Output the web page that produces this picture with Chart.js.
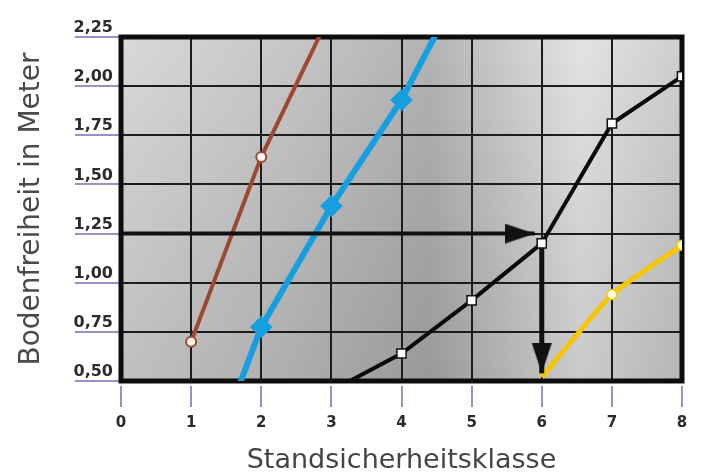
<!DOCTYPE html>
<html>
<head>
<meta charset="utf-8">
<script src="https://cdn.jsdelivr.net/npm/chart.js@4/dist/chart.umd.min.js"></script>
<style>
  html, body { margin: 0; padding: 0; background: #fff; }
  #wrap { width: 704px; height: 476px; }
</style>
</head>
<body>
<div id="wrap"><canvas id="chart" width="704" height="476"></canvas></div>
<script>
// tick labels
const xTickLabels = ["0", "1", "2", "3", "4", "5", "6", "7", "8"];
const yTickLabels = ["0,50", "0,75", "1,00", "1,25", "1,50", "1,75", "2,00", "2,25"];

// series (x = Standsicherheitsklasse, y = Bodenfreiheit)
const brownX = [1, 2, 3];
const brownY = [0.70, 1.64, 2.38];
const blueX = [1, 2, 3, 4, 5];
const blueY = [-0.17, 0.775, 1.39, 1.93, 2.61];
const blackX = [3, 4, 5, 6, 7, 8];
const blackY = [0.45, 0.64, 0.91, 1.20, 1.81, 2.05];
const yellowX = [6, 7, 8];
const yellowY = [0.52, 0.94, 1.19];

// reading arrows
const arrowHX = [0, 5.9];
const arrowHY = [1.25, 1.25];
const arrowVX = [6, 6];
const arrowVY = [1.20, 0.54];

const pts = (xs, ys) => xs.map((x, i) => ({ x, y: ys[i] }));

// arrow head, tip in the middle of the canvas so it sits on the data point
function arrowHead() {
  const c = document.createElement("canvas");
  c.width = 60;
  c.height = 20;
  const g = c.getContext("2d");
  g.fillStyle = "#111";
  g.beginPath();
  g.moveTo(0, 0);
  g.lineTo(30, 10);
  g.lineTo(0, 20);
  g.closePath();
  g.fill();
  return c;
}
const head = arrowHead();

const backdrop = {
  id: "backdrop",
  beforeDraw(chart) {
    const { ctx, chartArea: a } = chart;
    ctx.save();
    const g = ctx.createLinearGradient(a.left, a.top, a.right, a.top);
    g.addColorStop(0, "#d2d2d2");
    g.addColorStop(0.3, "#bdbdbd");
    g.addColorStop(0.55, "#a6a6a6");
    g.addColorStop(0.82, "#dedede");
    g.addColorStop(1, "#c6c6c6");
    ctx.fillStyle = g;
    ctx.fillRect(a.left, a.top, a.right - a.left, a.bottom - a.top);
    const v = ctx.createLinearGradient(0, a.top, 0, a.bottom);
    v.addColorStop(0, "rgba(255,255,255,0.15)");
    v.addColorStop(1, "rgba(60,60,60,0.12)");
    ctx.fillStyle = v;
    ctx.fillRect(a.left, a.top, a.right - a.left, a.bottom - a.top);
    ctx.restore();
  },
  beforeDatasetsDraw(chart) {
    const { ctx, chartArea: a } = chart;
    ctx.save();
    ctx.strokeStyle = "#0d0d0d";
    ctx.lineWidth = 5;
    ctx.strokeRect(a.left, a.top, a.right - a.left, a.bottom - a.top);
    ctx.restore();
  },
};

new Chart(document.getElementById("chart"), {
  type: "line",
  data: {
    datasets: [
      {
        data: pts(arrowVX, arrowVY),
        borderColor: "#111",
        borderWidth: 5,
        pointStyle: head,
        pointRotation: 90,
        pointRadius: [0, 10],
        order: 1,
      },
      {
        data: pts(arrowHX, arrowHY),
        borderColor: "#111",
        borderWidth: 4,
        pointStyle: head,
        pointRotation: 0,
        pointRadius: [0, 10],
        order: 2,
      },
      {
        data: pts(blackX, blackY),
        borderColor: "#0a0a0a",
        borderWidth: 4,
        pointStyle: "rect",
        pointRadius: [0, 6.5, 6.5, 6.5, 6.5, 6.5],
        pointBackgroundColor: "#ffffff",
        pointBorderColor: "#111",
        pointBorderWidth: 1.5,
        order: 0,
      },
      {
        data: pts(yellowX, yellowY),
        borderColor: "#f7c600",
        borderWidth: 5,
        tension: 0.15,
        pointStyle: "circle",
        pointRadius: [0, 5, 5],
        pointBackgroundColor: "#fffbe4",
        pointBorderColor: "#f7c600",
        pointBorderWidth: 1.5,
        order: 3,
      },
      {
        data: pts(blueX, blueY),
        borderColor: "#169fe0",
        borderWidth: 6,
        pointStyle: "rectRot",
        pointRadius: [0, 7, 7, 7, 0],
        pointBackgroundColor: "#169fe0",
        pointBorderColor: "#169fe0",
        order: 4,
      },
      {
        data: pts(brownX, brownY),
        borderColor: "#9c4832",
        borderWidth: 4,
        pointStyle: "circle",
        pointRadius: [5, 5, 0],
        pointBackgroundColor: "#fff4f0",
        pointBorderColor: "#9c4832",
        pointBorderWidth: 2,
        order: 5,
      },
    ],
  },
  options: {
    responsive: false,
    animation: false,
    events: [],
    layout: { padding: { top: 37, right: 22, left: 0, bottom: 0 } },
    plugins: {
      legend: { display: false },
      tooltip: { enabled: false },
    },
    scales: {
      x: {
        type: "linear",
        min: 0,
        max: 8,
        afterFit: (s) => { s.height = 95; },
        ticks: {
          stepSize: 1,
          padding: 7,
          color: "#2b2b2b",
          font: { family: "DejaVu Sans", size: 15, weight: "bold" },
          callback: (v, i) => xTickLabels[i],
        },
        grid: {
          color: "#1c1c1c",
          lineWidth: 2,
          tickLength: 26,
          tickColor: "#7070b4",
          tickWidth: 1.5,
          tickBorderDash: [0, 5, 21, 10],
        },
        border: { display: false },
        title: {
          display: true,
          text: "Standsicherheitsklasse",
          color: "#454545",
          font: { family: "DejaVu Sans", size: 27, lineHeight: 1 },
          padding: { top: 0, bottom: 2 },
        },
      },
      y: {
        type: "linear",
        min: 0.5,
        max: 2.25,
        afterFit: (s) => { s.width = 121; },
        ticks: {
          stepSize: 0.25,
          padding: -46,
          labelOffset: -9,
          color: "#2b2b2b",
          font: { family: "DejaVu Sans", size: 16, weight: "bold" },
          callback: (v, i) => yTickLabels[i],
        },
        grid: {
          color: "#1c1c1c",
          lineWidth: 2,
          tickLength: 54,
          tickColor: "#7070b4",
          tickWidth: 1.5,
          tickBorderDash: [0, 8, 46, 20],
        },
        border: { display: false },
        title: {
          display: true,
          text: "Bodenfreiheit in Meter",
          color: "#4a4a4a",
          font: { family: "DejaVu Sans", size: 28, lineHeight: 1.2 },
          padding: { top: 15, bottom: 0 },
        },
      },
    },
  },
  plugins: [backdrop],
});
</script>
</body>
</html>
